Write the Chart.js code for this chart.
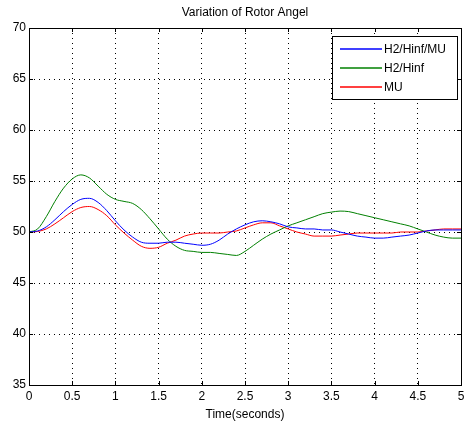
<!DOCTYPE html>
<html>
<head>
<meta charset="utf-8">
<script src="https://cdn.jsdelivr.net/npm/chart.js@4.4.1/dist/chart.umd.min.js"></script>
<style>
  html, body { margin: 0; padding: 0; background: #fff; }
  #wrap { width: 464px; height: 426px; }
</style>
</head>
<body>
<div id="wrap"><canvas id="rotorChart" width="464" height="426"></canvas></div>
<script>
// time axis, seconds
var timeSec = [0, 0.1, 0.2, 0.3, 0.4, 0.5, 0.6, 0.7, 0.8, 0.9,
    1.0, 1.1, 1.2, 1.3, 1.4, 1.5, 1.6, 1.7, 1.8, 1.9,
    2.0, 2.1, 2.2, 2.3, 2.4, 2.5, 2.6, 2.7, 2.8, 2.9,
    3.0, 3.1, 3.2, 3.3, 3.4, 3.5, 3.6, 3.7, 3.8, 3.9,
    4.0, 4.1, 4.2, 4.3, 4.4, 4.5, 4.6, 4.7, 4.8, 4.9, 5.0];

var h2HinfMu = [50, 50.1, 50.5, 51.2, 52.0, 52.7, 53.2, 53.3, 52.9, 52.1,
    51.1, 50.2, 49.5, 49.0, 48.9, 48.9, 49.0, 49.0, 48.9, 48.8,
    48.7, 48.8, 49.2, 49.8, 50.3, 50.7, 51.0, 51.1, 51.0, 50.8,
    50.5, 50.4, 50.3, 50.3, 50.2, 50.2, 50.0, 49.8, 49.6, 49.5,
    49.4, 49.4, 49.5, 49.6, 49.7, 49.9, 50.1, 50.2, 50.2, 50.2, 50.2];

var h2Hinf = [50, 50.3, 51.5, 53.0, 54.3, 55.2, 55.6, 55.3, 54.5, 53.7,
    53.2, 53.0, 52.8, 52.2, 51.3, 50.3, 49.3, 48.6, 48.2, 48.1,
    48.0, 48.0, 47.9, 47.8, 47.7, 48.1, 48.7, 49.3, 49.8, 50.2,
    50.6, 50.9, 51.2, 51.5, 51.8, 51.95, 52.05, 52.0, 51.8, 51.6,
    51.4, 51.2, 51.0, 50.8, 50.6, 50.3, 50.0, 49.7, 49.5, 49.4, 49.4];

var muOnly = [50, 50.05, 50.3, 50.8, 51.4, 52.0, 52.4, 52.5, 52.2, 51.6,
    50.7, 49.9, 49.2, 48.6, 48.4, 48.5, 48.9, 49.2, 49.6, 49.8,
    49.9, 49.9, 49.9, 50.0, 50.1, 50.4, 50.7, 50.9, 50.9, 50.6,
    50.3, 50.0, 49.8, 49.6, 49.6, 49.6, 49.7, 49.8, 49.9, 49.9,
    49.9, 49.9, 49.9, 50.0, 50.0, 50.0, 50.1, 50.2, 50.3, 50.3, 50.3];

var seriesNames = ['H2/Hinf/MU', 'H2/Hinf', 'MU'];
var seriesColors = ['#0000ff', '#008000', '#ff0000'];
var chartTitle = 'Variation of Rotor Angel';
var xTitle = 'Time(seconds)';

var FONT = '"Liberation Sans", Arial, sans-serif';

function toPoints(vals) {
    return vals.map(function (v, i) { return { x: timeSec[i], y: v }; });
}

// axes box, inward tick marks, title, legend box inside the plot
var matlabLook = {
    id: 'matlabLook',
    afterDraw: function (chart) {
        var ctx = chart.ctx;
        var a = chart.chartArea;
        var xs = chart.scales.x, ys = chart.scales.y;
        ctx.save();
        ctx.strokeStyle = '#000';
        ctx.lineWidth = 1;
        ctx.setLineDash([]);
        ctx.strokeRect(Math.round(a.left) + 0.5, Math.round(a.top) + 0.5,
            Math.round(a.right - a.left), Math.round(a.bottom - a.top));

        ctx.beginPath();
        xs.ticks.forEach(function (t) {
            var px = Math.round(xs.getPixelForValue(t.value)) + 0.5;
            ctx.moveTo(px, a.bottom); ctx.lineTo(px, a.bottom - 4);
            ctx.moveTo(px, a.top); ctx.lineTo(px, a.top + 4);
        });
        ys.ticks.forEach(function (t) {
            var py = Math.round(ys.getPixelForValue(t.value)) + 0.5;
            ctx.moveTo(a.left, py); ctx.lineTo(a.left + 4, py);
            ctx.moveTo(a.right, py); ctx.lineTo(a.right - 4, py);
        });
        ctx.stroke();

        // title
        ctx.fillStyle = '#000';
        ctx.font = '12px ' + FONT;
        ctx.textAlign = 'center';
        ctx.textBaseline = 'middle';
        ctx.fillText(chartTitle, (a.left + a.right) / 2, 13);

        // legend
        var bx = 332.5, by = 36.5, bw = 125, bh = 63;
        ctx.fillStyle = '#fff';
        ctx.fillRect(bx, by, bw, bh);
        ctx.strokeStyle = '#000';
        ctx.strokeRect(bx, by, bw, bh);
        ctx.textAlign = 'left';
        ctx.lineWidth = 1.4;
        for (var i = 0; i < seriesNames.length; i++) {
            var ry = 49 + i * 19;
            ctx.beginPath();
            ctx.strokeStyle = seriesColors[i];
            ctx.moveTo(340, ry);
            ctx.lineTo(382, ry);
            ctx.stroke();
            ctx.fillStyle = '#000';
            ctx.fillText(seriesNames[i], 384, ry + 0.5);
        }
        ctx.restore();
    }
};

var ctx = document.getElementById('rotorChart').getContext('2d');
var rotorChart = new Chart(ctx, {
    type: 'line',
    data: {
        datasets: [
            { label: seriesNames[0], data: toPoints(h2HinfMu), borderColor: seriesColors[0] },
            { label: seriesNames[1], data: toPoints(h2Hinf), borderColor: seriesColors[1] },
            { label: seriesNames[2], data: toPoints(muOnly), borderColor: seriesColors[2] }
        ]
    },
    options: {
        responsive: false,
        animation: false,
        events: [],
        layout: { padding: { top: 28, right: 3, left: 0, bottom: 0 } },
        elements: {
            point: { radius: 0 },
            line: { borderWidth: 1, tension: 0.4, cubicInterpolationMode: 'monotone' }
        },
        plugins: {
            legend: { display: false },
            title: { display: false },
            tooltip: { enabled: false }
        },
        scales: {
            x: {
                type: 'linear',
                min: 0,
                max: 5,
                ticks: {
                    stepSize: 0.5,
                    padding: 4,
                    maxRotation: 0,
                    color: '#000',
                    font: { family: FONT, size: 12 },
                    callback: function (v) { return String(v); }
                },
                grid: { color: '#000', lineWidth: 1, drawTicks: false },
                border: { display: false, dash: [1, 4] },
                title: {
                    display: true,
                    text: xTitle,
                    color: '#000',
                    font: { family: FONT, size: 12 },
                    padding: { top: 0, bottom: 4 }
                },
                afterFit: function (s) {
                    s.height = 41;
                    s.paddingLeft = 0;
                    s.paddingRight = 0;
                }
            },
            y: {
                min: 35,
                max: 70,
                ticks: {
                    stepSize: 5,
                    padding: 3,
                    color: '#000',
                    font: { family: FONT, size: 12 }
                },
                grid: { color: '#000', lineWidth: 1, drawTicks: false },
                border: { display: false, dash: [1, 4] },
                afterFit: function (s) {
                    s.width = 29;
                    s.paddingTop = 0;
                    s.paddingBottom = 0;
                }
            }
        }
    },
    plugins: [matlabLook]
});
</script>
</body>
</html>
